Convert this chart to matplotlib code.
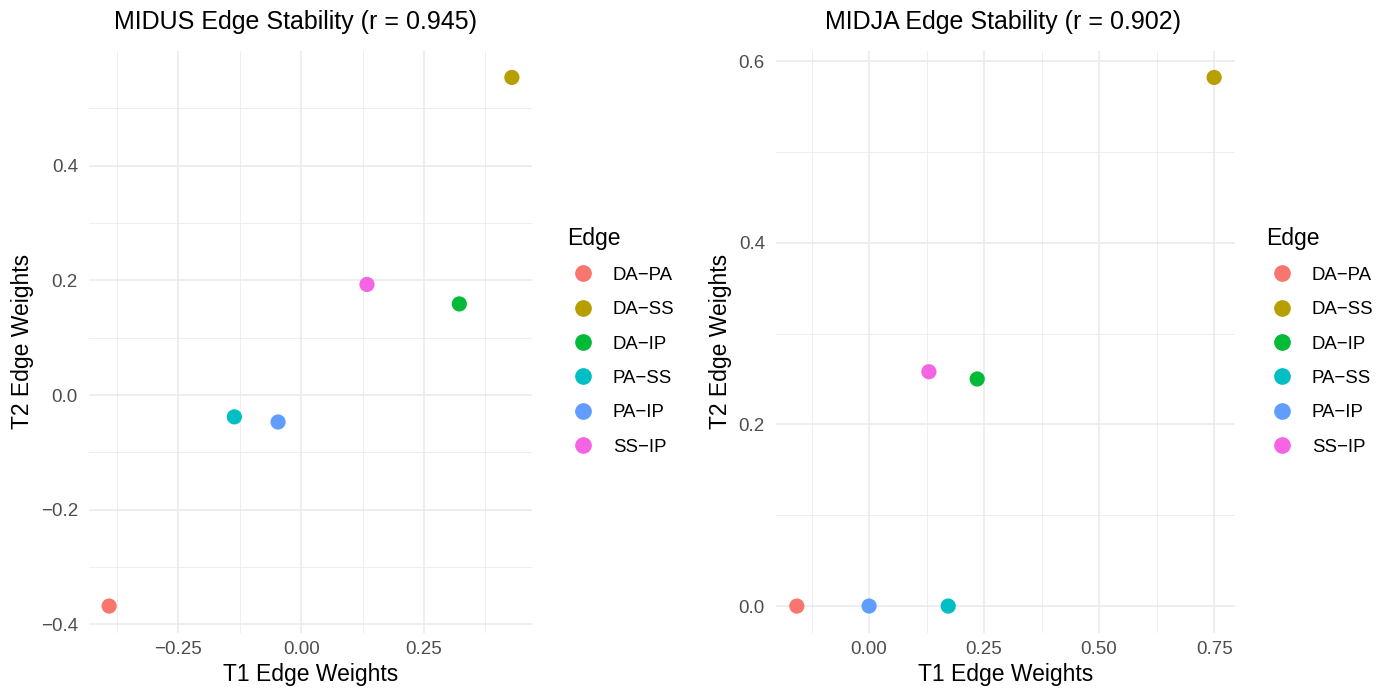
import numpy as np
import matplotlib.pyplot as plt
from matplotlib.lines import Line2D
from matplotlib.ticker import FixedLocator

plt.rcParams['font.family'] = ['Liberation Sans', 'DejaVu Sans']

# edge labels and ggplot hue colours
edges = ["DA\u2212PA", "DA\u2212SS", "DA\u2212IP", "PA\u2212SS", "PA\u2212IP", "SS\u2212IP"]
colors = ["#F8766D", "#B79F00", "#00BA38", "#00BFC4", "#619CFF", "#F564E3"]

# MIDUS edge weights (T1, T2)
midus_t1 = [-0.391, 0.429, 0.322, -0.136, -0.047, 0.134]
midus_t2 = [-0.368, 0.554, 0.159, -0.038, -0.047, 0.193]
midus_r = 0.945

# MIDJA edge weights (T1, T2)
midja_t1 = [-0.157, 0.750, 0.235, 0.172, 0.000, 0.130]
midja_t2 = [0.000, 0.582, 0.250, 0.000, 0.000, 0.258]
midja_r = 0.902

W, H = 1387, 690
GRID = "#EBEBEB"
TICK_COL = "#4D4D4D"


def fmt(v, nd):
    return f"{v:.{nd}f}".replace("-", "\u2212")


def style_axes(ax, xmaj, xmin, ymaj, ymin, xnd, ynd):
    ax.margins(0.05)
    for s in ax.spines.values():
        s.set_visible(False)
    ax.xaxis.set_major_locator(FixedLocator(xmaj))
    ax.yaxis.set_major_locator(FixedLocator(ymaj))
    ax.xaxis.set_minor_locator(FixedLocator(xmin))
    ax.yaxis.set_minor_locator(FixedLocator(ymin))
    ax.set_xticklabels([fmt(v, xnd) for v in xmaj])
    ax.set_yticklabels([fmt(v, ynd) for v in ymaj])
    ax.tick_params(which="both", length=0)
    ax.tick_params(axis="x", labelsize=13.5, colors=TICK_COL, pad=6)
    ax.tick_params(axis="y", labelsize=13.5, colors=TICK_COL, pad=8)
    ax.grid(which="major", color=GRID, lw=1.2, zorder=0)
    ax.grid(which="minor", color=GRID, lw=0.6, zorder=0)
    ax.set_axisbelow(True)
    ax.set_xlabel("T1 Edge Weights", fontsize=16.5, labelpad=4)
    ax.set_ylabel("T2 Edge Weights", fontsize=16.5, labelpad=5)


def add_legend(ax, x0, y0):
    handles = [Line2D([], [], ls="none", marker="o", markersize=11,
                      markerfacecolor=c, markeredgecolor=c) for c in colors]
    leg = ax.legend(handles, edges, title="Edge", loc="upper left",
                    bbox_to_anchor=(x0 / W, 1 - y0 / H), bbox_transform=ax.figure.transFigure,
                    frameon=False, fontsize=13.4, title_fontsize=16.5,
                    handlelength=1.75, handletextpad=0.72, labelspacing=0.93,
                    borderpad=0, borderaxespad=0, alignment="left")
    return leg


fig = plt.figure(figsize=(W / 100, H / 100), dpi=100)
ax1 = fig.add_axes([89 / W, 1 - 632.5 / H, (532 - 89) / W, (632.5 - 51) / H])
ax2 = fig.add_axes([776 / W, 1 - 632.5 / H, (1235 - 776) / W, (632.5 - 51) / H])

ax1.scatter(midus_t1, midus_t2, c=colors, s=120, zorder=3, linewidths=0)
style_axes(ax1, [-0.25, 0.0, 0.25], [-0.375, -0.125, 0.125, 0.375],
           [-0.4, -0.2, 0.0, 0.2, 0.4], [-0.3, -0.1, 0.1, 0.3, 0.5], 2, 1)
add_legend(ax1, 567, 226.5)

ax2.scatter(midja_t1, midja_t2, c=colors, s=120, zorder=3, linewidths=0)
style_axes(ax2, [0.0, 0.25, 0.5, 0.75], [-0.125, 0.125, 0.375, 0.625],
           [0.0, 0.2, 0.4, 0.6], [0.1, 0.3, 0.5], 2, 1)
add_legend(ax2, 1266, 226.5)

fig.text(295 / W, 1 - 22 / H, f"MIDUS Edge Stability (r = {midus_r:.3f})",
         ha="center", va="center", fontsize=18)
fig.text(1003 / W, 1 - 22 / H, f"MIDJA Edge Stability (r = {midja_r:.3f})",
         ha="center", va="center", fontsize=18)

fig.savefig("out.png", dpi=100, facecolor="white")
